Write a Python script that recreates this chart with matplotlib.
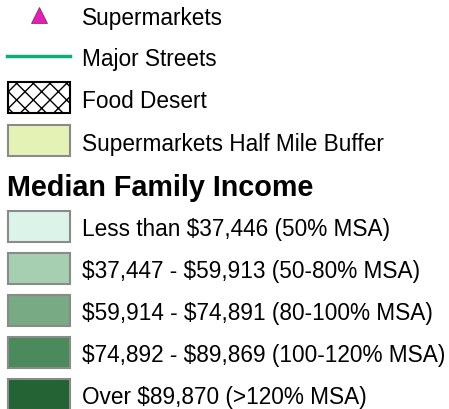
import matplotlib
matplotlib.use("Agg")
import matplotlib.pyplot as plt
from matplotlib.patches import Rectangle

plt.rcParams['font.family'] = ['Liberation Sans', 'DejaVu Sans']
plt.rcParams['hatch.linewidth'] = 1.0

# legend content
layer_labels = ["Supermarkets", "Major Streets", "Food Desert", "Supermarkets Half Mile Buffer"]
marker_color = "#e41fb4"
street_color = "#10ab7c"
buffer_color = "#e5f2b6"

income_title = "Median Family Income"
income_labels = [
    "Less than $37,446 (50% MSA)",
    "$37,447 - $59,913 (50-80% MSA)",
    "$59,914 - $74,891 (80-100% MSA)",
    "$74,892 - $89,869 (100-120% MSA)",
    "Over $89,870 (>120% MSA)",
]
income_colors = ["#dbf3e8", "#a6cfb1", "#78aa83", "#4a8a5d", "#236334"]

W, H = 449, 410
fig = plt.figure(figsize=(W / 100, H / 100), dpi=100)
ax = fig.add_axes([0, 0, 1, 1])
ax.set_xlim(0, W)
ax.set_ylim(H, 0)
ax.axis("off")

fs = 16.3
tx = 82
sw_x, sw_w, sw_h = 8, 62, 31


def label(y, s, **kw):
    ax.text(tx, y, s, fontsize=fs, va="center_baseline", parse_math=False, **kw)


# supermarkets
ax.plot([39], [16], marker="^", markersize=12, color=marker_color,
        markeredgecolor="#7a2060", markeredgewidth=0.5)
label(16, layer_labels[0])

# major streets
ax.plot([7, 70], [57, 57], color=street_color, linewidth=2.5)
label(57, layer_labels[1])

# food desert
ax.add_patch(Rectangle((sw_x, 83), sw_w, sw_h, facecolor="white",
                       edgecolor="black", hatch="xx", linewidth=1.5))
label(99, layer_labels[2])

# buffer
ax.add_patch(Rectangle((sw_x, 126), sw_w, sw_h, facecolor=buffer_color,
                       edgecolor="#8a8a8a", linewidth=1.5))
label(142, layer_labels[3])

# income classes
ax.text(7, 185, income_title, fontsize=20.7, fontweight="bold",
        va="center_baseline")
for i, (lab, col) in enumerate(zip(income_labels, income_colors)):
    y = 212 + i * 42
    ax.add_patch(Rectangle((sw_x, y), sw_w, sw_h, facecolor=col,
                           edgecolor="#8a8a8a", linewidth=1.5))
    label(y + sw_h / 2, lab)

fig.savefig("out.png", dpi=100, facecolor="white")
